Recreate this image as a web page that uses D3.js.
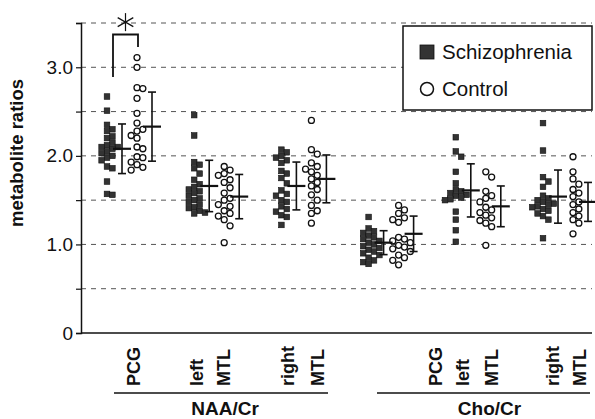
<!DOCTYPE html>
<html>
<head>
<meta charset="utf-8">
<script src="https://cdn.jsdelivr.net/npm/d3@7"></script>
<style>
  body { margin:0; background:#fff; }
  svg { font-family: "Liberation Sans", Arial, sans-serif; }
</style>
</head>
<body>
<div id="vis"></div>
<script>
// ---- data ----
var groups = ["NAA PCG","NAA left MTL","NAA right MTL","Cho PCG","Cho left MTL","Cho right MTL"]
var regionLabels = [["PCG"],["left","MTL"],["right","MTL"],["PCG"],["left","MTL"],["right","MTL"]]
var metabolites = ["NAA/Cr","Cho/Cr"]
var seriesNames = ["Schizophrenia","Control"]

var schizoValues = [
  [2.67,2.51,2.35,2.30,2.28,2.22,2.20,2.15,2.12,2.10,2.10,2.08,2.05,2.03,2.00,1.98,1.95,1.88,1.86,1.71,1.57,1.56],
  [2.46,2.23,1.93,1.90,1.86,1.80,1.73,1.68,1.65,1.62,1.60,1.58,1.55,1.52,1.50,1.48,1.45,1.42,1.41,1.38,1.36,1.35],
  [2.07,2.04,2.00,1.98,1.95,1.92,1.83,1.80,1.75,1.69,1.61,1.57,1.55,1.50,1.48,1.43,1.40,1.37,1.33,1.31,1.22],
  [1.31,1.18,1.15,1.13,1.10,1.08,1.06,1.04,1.02,1.00,0.98,0.96,0.94,0.92,0.90,0.88,0.85,0.82,0.80,0.78],
  [2.21,2.05,1.99,1.82,1.69,1.62,1.60,1.58,1.56,1.55,1.53,1.51,1.50,1.37,1.28,1.16,1.03],
  [2.37,2.06,1.76,1.71,1.65,1.55,1.52,1.50,1.48,1.46,1.45,1.43,1.42,1.40,1.38,1.35,1.32,1.28,1.07]
]
var controlValues = [
  [3.11,3.00,2.77,2.76,2.65,2.48,2.37,2.30,2.28,2.23,2.20,2.10,2.08,1.99,1.98,1.93,1.90,1.87,1.84],
  [1.88,1.84,1.80,1.78,1.73,1.70,1.64,1.58,1.52,1.50,1.45,1.43,1.38,1.35,1.32,1.28,1.21,1.02],
  [2.40,2.07,2.02,1.92,1.88,1.85,1.82,1.78,1.74,1.70,1.66,1.62,1.56,1.50,1.44,1.38,1.35,1.24],
  [1.44,1.39,1.35,1.30,1.28,1.25,1.08,1.06,1.04,1.02,0.99,0.97,0.95,0.92,0.88,0.85,0.82,0.77],
  [1.82,1.76,1.60,1.55,1.52,1.48,1.42,1.39,1.36,1.33,1.30,1.27,1.24,1.20,0.99],
  [1.99,1.82,1.74,1.68,1.62,1.58,1.54,1.48,1.45,1.40,1.36,1.32,1.28,1.24,1.12]
]
var schizoMean = [2.08,1.66,1.66,1.02,1.61,1.54]
var schizoSD   = [0.28,0.29,0.27,0.135,0.30,0.30]
var controlMean = [2.33,1.54,1.74,1.12,1.43,1.48]
var controlSD   = [0.39,0.25,0.27,0.20,0.23,0.22]

var yTickValues = [0,0.5,1,1.5,2,2.5,3,3.5]
var yTickLabels = ["0","","1.0","","2.0","","3.0",""]
var sigBracket = {top:3.37, leftEnd:2.89, rightEnd:3.23, star:3.51}

// ---- layout ----
var W = 595, H = 419
var labelOffsets = [[27],[2,29],[6,36],[67],[7,36],[10,37]]
var metabSpans = [[114,328],[377,590]]

var svg = d3.select("#vis").append("svg").attr("width",W).attr("height",H)

var y = d3.scaleLinear().domain([0,3.5]).range([333,23])
var x = d3.scalePoint().domain(groups).range([107,543])
var inner = d3.scalePoint().domain(["s","sBar","c","cBar"]).range([0,45])
var axisX = 81, rightEdge = 592

//gridlines
svg.append("g").selectAll("line").data(yTickValues.filter(function(d){return d>0}))
  .enter().append("line")
  .attr("x1",axisX).attr("x2",rightEdge)
  .attr("y1",function(d){return y(d)}).attr("y2",function(d){return y(d)})
  .attr("stroke","#555").attr("stroke-width",1).attr("stroke-dasharray","5,5")

//y axis
var yAxis = d3.axisLeft(y).tickValues(yTickValues).tickSize(5).tickPadding(3)
  .tickFormat(function(d,i){return yTickLabels[i]})
var ga = svg.append("g").attr("transform","translate("+axisX+",0)").call(yAxis)
ga.select(".domain").attr("stroke","#111").attr("stroke-width",1.5)
ga.selectAll(".tick line").attr("stroke","#111").attr("stroke-width",1.2)
ga.selectAll(".tick text").attr("font-size","19px").attr("fill","#111")
  .attr("font-family","Liberation Sans, Arial, sans-serif")

//x axis baseline
svg.append("line").attr("x1",axisX).attr("x2",rightEdge)
  .attr("y1",y(0)).attr("y2",y(0)).attr("stroke","#111").attr("stroke-width",1.5)

svg.append("text").attr("transform","translate(23,"+((y(0)+y(3.5))/2-25)+") rotate(-90)")
  .attr("text-anchor","middle").attr("font-size","18.5px").attr("font-weight","bold")
  .attr("fill","#111").text("metabolite ratios")

// simple beeswarm offsets
function swarm(vals, d){
  var placed = []
  return vals.slice().sort(function(a,b){return b-a}).map(function(v){
    var py = y(v), off = 0
    for (var i=0;i<40;i++){
      off = (i%2 ? 1 : -1) * Math.ceil(i/2) * d * 0.9
      var hit = placed.some(function(p){return Math.abs(p.dx-off)<d*0.9 && Math.abs(p.py-py)<d})
      if(!hit) break
    }
    var pt = {v:v, py:py, dx:off}
    placed.push(pt)
    return pt
  })
}

groups.forEach(function(g,i){
  var gx = x(g)
  var sPts = swarm(schizoValues[i],6)
  svg.append("g").selectAll("rect").data(sPts).enter().append("rect")
    .attr("x",function(d){return gx+inner("s")+d.dx-2.8})
    .attr("y",function(d){return d.py-2.8})
    .attr("width",5.6).attr("height",5.6)
    .attr("fill","#333").attr("stroke","#111").attr("stroke-width",0.6)
  var cPts = swarm(controlValues[i],6.5)
  svg.append("g").selectAll("circle").data(cPts).enter().append("circle")
    .attr("cx",function(d){return gx+inner("c")+d.dx})
    .attr("cy",function(d){return d.py})
    .attr("r",3).attr("fill","#fff").attr("stroke","#111").attr("stroke-width",1.3)

  //error bars
  var bars = [
    {cx:gx+inner("sBar"), m:schizoMean[i], sd:schizoSD[i]},
    {cx:gx+inner("cBar"), m:controlMean[i], sd:controlSD[i]}
  ]
  var eb = svg.append("g").selectAll("g").data(bars).enter().append("g")
    .attr("stroke","#111")
  eb.append("line").attr("x1",function(d){return d.cx}).attr("x2",function(d){return d.cx})
    .attr("y1",function(d){return y(d.m+d.sd)}).attr("y2",function(d){return y(d.m-d.sd)})
    .attr("stroke-width",1.6)
  eb.append("line").attr("x1",function(d){return d.cx-4}).attr("x2",function(d){return d.cx+4})
    .attr("y1",function(d){return y(d.m+d.sd)}).attr("y2",function(d){return y(d.m+d.sd)})
    .attr("stroke-width",1.6)
  eb.append("line").attr("x1",function(d){return d.cx-4}).attr("x2",function(d){return d.cx+4})
    .attr("y1",function(d){return y(d.m-d.sd)}).attr("y2",function(d){return y(d.m-d.sd)})
    .attr("stroke-width",1.6)
  eb.append("line").attr("x1",function(d){return d.cx-9}).attr("x2",function(d){return d.cx+9})
    .attr("y1",function(d){return y(d.m)}).attr("y2",function(d){return y(d.m)})
    .attr("stroke-width",2.2)

  //region labels (rotated)
  regionLabels[i].forEach(function(lab,j){
    var lx = gx + labelOffsets[i][j]
    svg.append("text").attr("transform","translate("+lx+",386) rotate(-90)")
      .attr("dy","0.36em").attr("font-size","18px").attr("font-weight","bold")
      .attr("fill","#111").text(lab)
  })
})

//metabolite group labels
metabolites.forEach(function(m,i){
  svg.append("line").attr("x1",metabSpans[i][0]).attr("x2",metabSpans[i][1])
    .attr("y1",393).attr("y2",393).attr("stroke","#111").attr("stroke-width",1.6)
  svg.append("text").attr("x",(metabSpans[i][0]+metabSpans[i][1])/2 + (i==0?4:6)).attr("y",415)
    .attr("text-anchor","middle").attr("font-size","19px").attr("font-weight","bold")
    .attr("fill","#111").text(m)
})

//significance bracket
var bx0 = x(groups[0])+inner("s")+6, bx1 = x(groups[0])+inner("c")+1
svg.append("path")
  .attr("d","M"+bx0+","+y(sigBracket.leftEnd)+"V"+y(sigBracket.top)+"H"+bx1+"V"+y(sigBracket.rightEnd))
  .attr("fill","none").attr("stroke","#111").attr("stroke-width",1.8)
var sx = (bx0+bx1)/2, sy = y(sigBracket.star), sr = 9
var star = svg.append("g").attr("stroke","#111").attr("stroke-width",1.2)
;[90,30,150].forEach(function(a){
  var r = a*Math.PI/180
  star.append("line").attr("x1",sx-sr*Math.cos(r)).attr("x2",sx+sr*Math.cos(r))
    .attr("y1",sy-sr*Math.sin(r)).attr("y2",sy+sr*Math.sin(r))
})

//legend
var lg = svg.append("g")
lg.append("rect").attr("x",403).attr("y",26).attr("width",189).attr("height",84)
  .attr("fill","#fff").attr("stroke","#111").attr("stroke-width",1.5)
lg.append("rect").attr("x",420).attr("y",45).attr("width",14).attr("height",14)
  .attr("fill","#333").attr("stroke","#111").attr("stroke-width",0.8)
lg.append("circle").attr("cx",427).attr("cy",89).attr("r",6.5)
  .attr("fill","#fff").attr("stroke","#111").attr("stroke-width",1.5)
lg.selectAll("text").data(seriesNames).enter().append("text")
  .attr("x",442).attr("y",function(d,i){return i==0?59:96})
  .attr("font-size","20.5px").attr("fill","#111").text(function(d){return d})
</script>
</body>
</html>
